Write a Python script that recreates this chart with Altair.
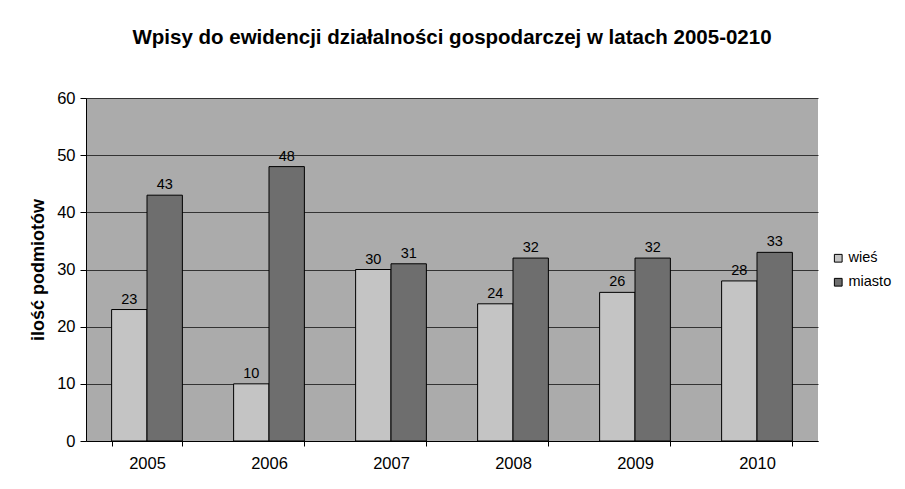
import altair as alt
import pandas as pd

years = ["2005", "2006", "2007", "2008", "2009", "2010"]
wies = [23, 10, 30, 24, 26, 28]
miasto = [43, 48, 31, 32, 32, 33]
series = ["wieś", "miasto"]

rows = []
for i, y in enumerate(years):
    rows.append({"rok": y, "typ": "wieś", "v": wies[i]})
    rows.append({"rok": y, "typ": "miasto", "v": miasto[i]})
df = pd.DataFrame(rows)

FONT = "Liberation Sans"

x = alt.X("rok:N", title=None,
          scale=alt.Scale(paddingInner=0.42, paddingOuter=0.21),
          axis=alt.Axis(labelAngle=0, tickBand="extent", labelFontSize=16.5,
                        labelFont=FONT,
                        labelColor="#000", domainColor="#000", tickColor="#000",
                        labelPadding=9, tickSize=5))
xo = alt.XOffset("typ:N", sort=series)

bars = alt.Chart(df).mark_bar(stroke="#000", strokeWidth=1).encode(
    x=x, xOffset=xo,
    y=alt.Y("v:Q", title="ilość podmiotów",
            scale=alt.Scale(domain=[0, 60]),
            axis=alt.Axis(values=[0, 10, 20, 30, 40, 50, 60], labelFontSize=16.5,
                          labelFont=FONT, titleFont=FONT,
                          labelColor="#000", titleFontSize=18, titleFontWeight="bold",
                          titleColor="#000", domainColor="#000", tickColor="#000",
                          gridColor="#333", gridWidth=1, tickSize=6, labelPadding=5,
                          titlePadding=9)),
    color=alt.Color("typ:N", sort=series,
                    scale=alt.Scale(domain=series, range=["#c4c4c4", "#6e6e6e"]),
                    legend=alt.Legend(title=None, orient="none", legendX=745, legendY=153,
                                      symbolType="square", symbolSize=60,
                                      symbolStrokeColor="#000", symbolStrokeWidth=1,
                                      labelFontSize=14.5, labelFont=FONT, labelColor="#000",
                                      rowPadding=9, labelOffset=3, labelLimit=200)),
)

labels = alt.Chart(df).mark_text(dy=-10, fontSize=14.5, font=FONT, color="#000").encode(
    x=alt.X("rok:N", scale=alt.Scale(paddingInner=0.42, paddingOuter=0.21)),
    xOffset=xo,
    y="v:Q",
    text="v:Q",
)

chart = (bars + labels).properties(
    width=732, height=343,
    title=alt.Title("Wpisy do ewidencji działalności gospodarczej w latach 2005-0210",
                    fontSize=20.5, fontWeight="bold", font=FONT, color="#000", offset=42),
    autosize=alt.AutoSizeParams(type="none"),
    padding={"left": 78, "top": 90, "right": 79, "bottom": 40},
).configure(font=FONT).configure_view(fill="#ababab", stroke=None)

chart.save("out.html", embed_options={"renderer": "svg", "actions": False})
